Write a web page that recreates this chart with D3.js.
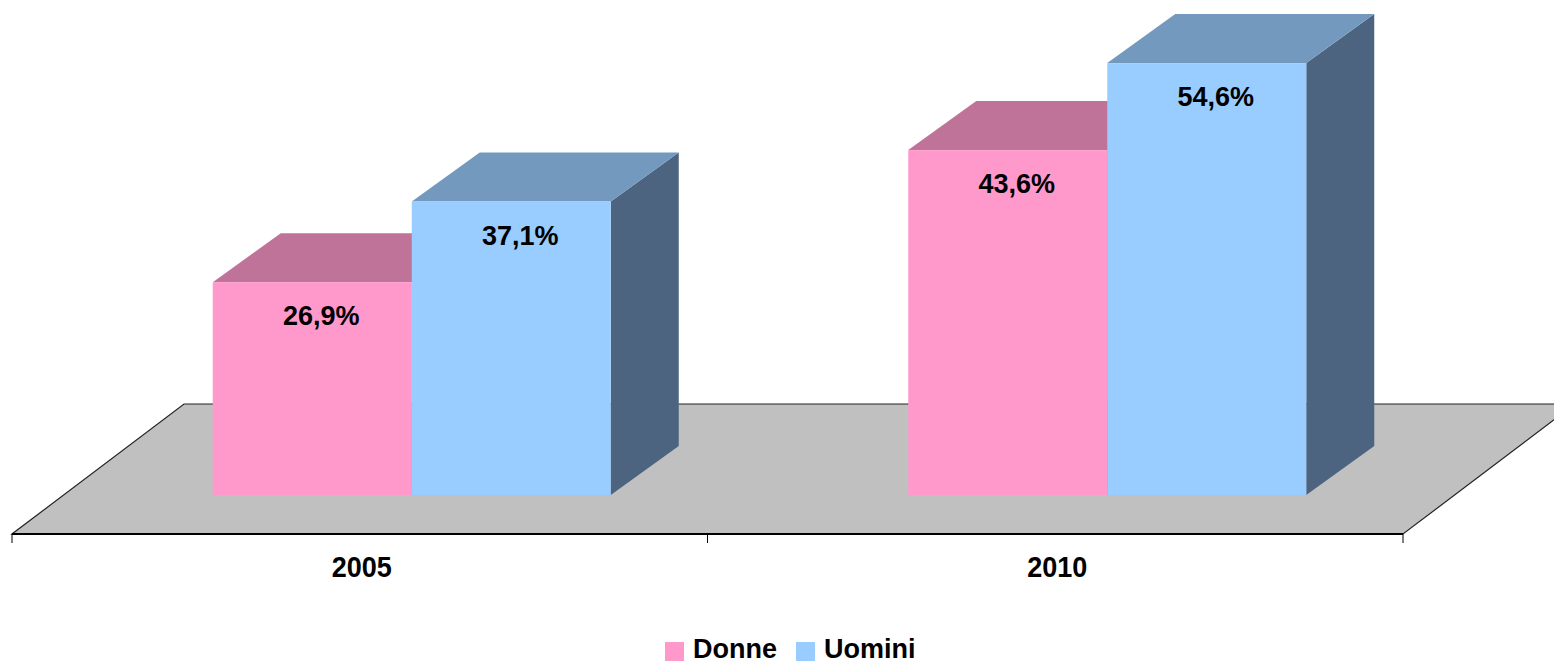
<!DOCTYPE html>
<html>
<head>
<meta charset="utf-8">
<script src="https://cdn.jsdelivr.net/npm/d3@7"></script>
<style>
  html, body { margin: 0; padding: 0; background: #fff; }
  svg { display: block; }
  text { font-family: Arial, "Liberation Sans", sans-serif; font-weight: bold; fill: #000; }
</style>
</head>
<body>
<svg id="chart" width="1554" height="665"></svg>
<script>
// ---- data ----
const categories = ["2005", "2010"];
const seriesNames = ["Donne", "Uomini"];
const donne = [26.9, 43.6];
const uomini = [37.1, 54.6];
const donneLabels = ["26,9%", "43,6%"];
const uominiLabels = ["37,1%", "54,6%"];

// ---- styles ----
const colors = {
  Donne:  { front: "#FF99CC", top: "#BF7399", side: "#9E5F80" },
  Uomini: { front: "#99CCFF", top: "#7399BF", side: "#4D6480" }
};

const svg = d3.select("#chart");

// ---- geometry ----
const floorFrontY = 534;
const floorDepth = [172, -130];
const barOffset = [52, -39];
const barDepth = [68, -49];

const x = d3.scaleBand().domain(categories).range([12, 1403]);
const inner = d3.scaleBand().domain(seriesNames).range([-199, 199]);
const baseY = floorFrontY + barOffset[1];
const y = d3.scaleLinear().domain([0, 60]).range([baseY, baseY - 60 * 7.91]);

// ---- floor ----
const fl = x.range()[0], fr = x.range()[1];
const floorPts = [
  [fl, floorFrontY], [fr, floorFrontY],
  [fr + floorDepth[0], floorFrontY + floorDepth[1]],
  [fl + floorDepth[0], floorFrontY + floorDepth[1]]
];
svg.append("polygon")
  .attr("points", floorPts.map(p => p.join(",")).join(" "))
  .attr("fill", "#C0C0C0")
  .attr("stroke", "#222")
  .attr("stroke-width", 1.2);

svg.append("line")
  .attr("x1", fl).attr("x2", fr)
  .attr("y1", floorFrontY).attr("y2", floorFrontY)
  .attr("stroke", "#000").attr("stroke-width", 2);
const tickXs = categories.map(c => x(c)).concat([fr]);
svg.selectAll("line.tick").data(tickXs).enter().append("line")
  .attr("class", "tick")
  .attr("x1", d => d).attr("x2", d => d)
  .attr("y1", floorFrontY).attr("y2", floorFrontY + 9)
  .attr("stroke", "#000").attr("stroke-width", 1);

// ---- bars ----
const bars = [];
categories.forEach((c, i) => {
  bars.push({ cat: c, s: "Donne", v: donne[i], label: donneLabels[i] });
  bars.push({ cat: c, s: "Uomini", v: uomini[i], label: uominiLabels[i] });
});

const gBars = svg.append("g");
bars.forEach(b => {
  const cx = x(b.cat) + x.bandwidth() / 2 + barOffset[0];
  const x0 = cx + inner(b.s), x1 = x0 + inner.bandwidth();
  const yt = y(b.v), yb = y(0);
  const dx = barDepth[0], dy = barDepth[1];
  const g = gBars.append("g");
  g.append("polygon")
    .attr("points", [[x1, yb], [x1 + dx, yb + dy], [x1 + dx, yt + dy], [x1, yt]].map(p => p.join(",")).join(" "))
    .attr("fill", colors[b.s].side);
  g.append("polygon")
    .attr("points", [[x0, yt], [x0 + dx, yt + dy], [x1 + dx, yt + dy], [x1, yt]].map(p => p.join(",")).join(" "))
    .attr("fill", colors[b.s].top);
  g.append("rect")
    .attr("x", x0).attr("y", yt)
    .attr("width", x1 - x0).attr("height", yb - yt)
    .attr("fill", colors[b.s].front);
  b.cx = (x0 + x1) / 2;
  b.yt = yt;
});

// ---- value labels ----
svg.selectAll("text.val").data(bars).enter().append("text")
  .attr("class", "val")
  .attr("text-anchor", "middle")
  .attr("font-size", 27)
  .attr("x", d => d.cx + 9)
  .attr("y", d => d.yt + 43)
  .text(d => d.label);

// ---- category labels ----
svg.selectAll("text.cat").data(categories).enter().append("text")
  .attr("class", "cat")
  .attr("text-anchor", "middle")
  .attr("font-size", 30)
  .attr("transform", d => `translate(${x(d) + x.bandwidth() / 2 + 2},577) scale(0.9,1)`)
  .text(d => d);

// ---- legend ----
const legend = svg.append("g");
let lx = 665;
seriesNames.forEach(s => {
  legend.append("rect")
    .attr("x", lx).attr("y", 642)
    .attr("width", 19).attr("height", 19)
    .attr("fill", colors[s].front);
  const t = legend.append("text")
    .attr("x", lx + 28).attr("y", 658)
    .attr("font-size", 27)
    .text(s);
  lx = lx + 28 + t.node().getComputedTextLength() + 19;
});
</script>
</body>
</html>
